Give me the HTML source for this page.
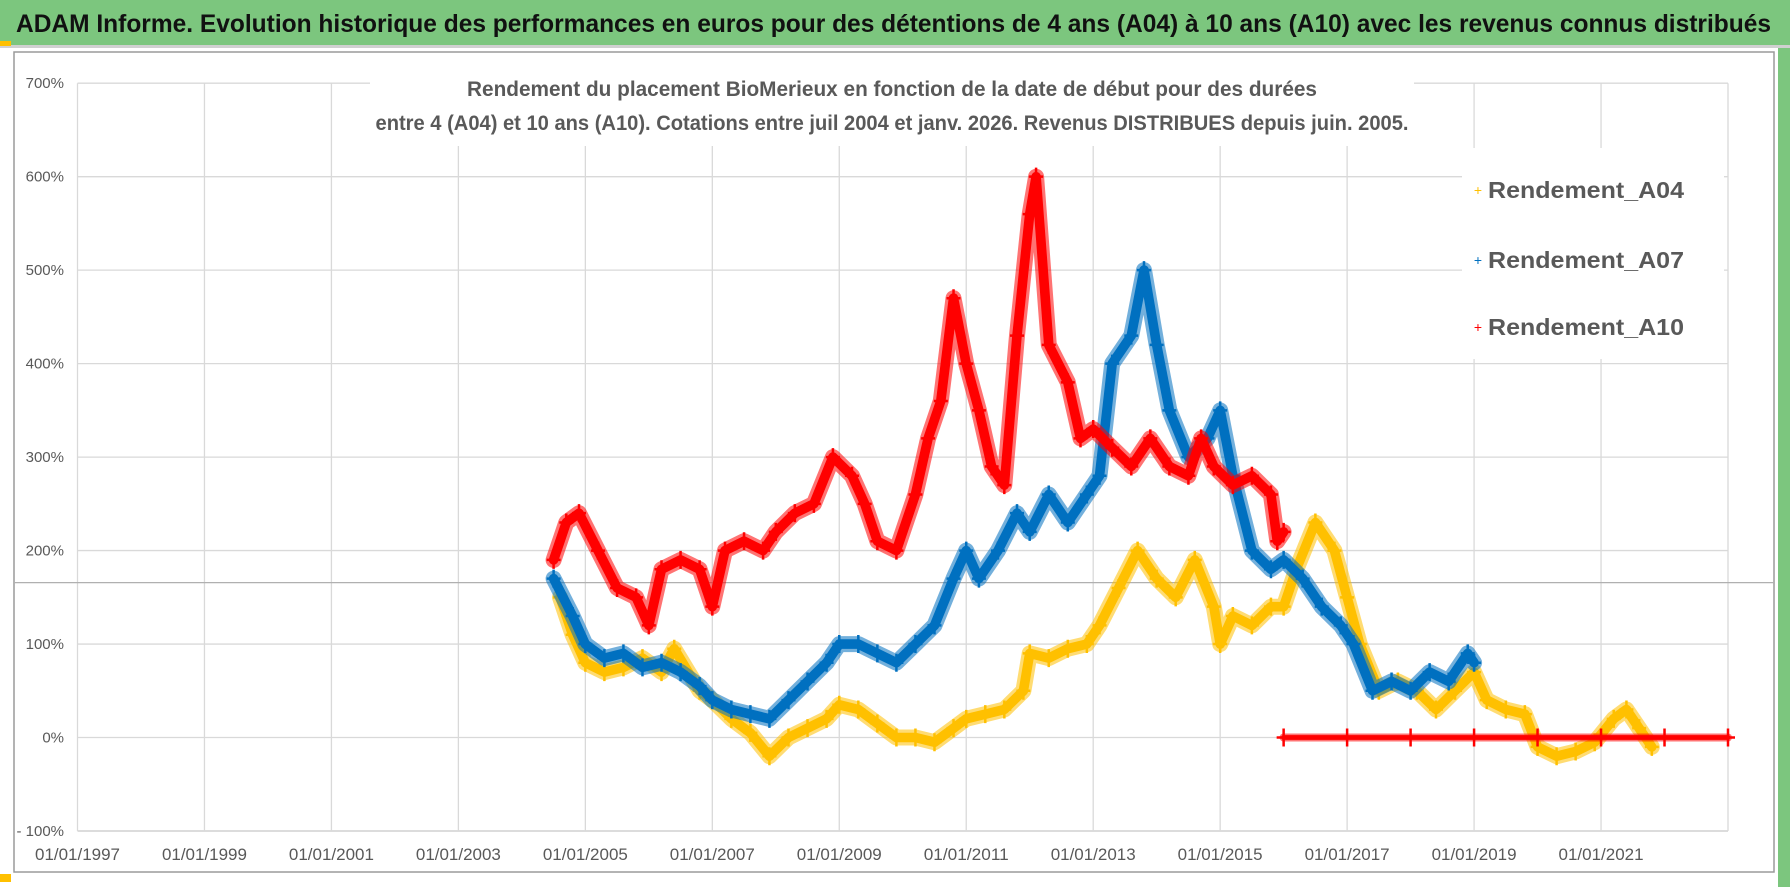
<!DOCTYPE html>
<html><head><meta charset="utf-8"><style>
html,body{margin:0;padding:0;background:#fff;}
svg{display:block;font-family:"Liberation Sans",sans-serif;}
</style></head><body>
<svg id="chart" width="1790" height="887" viewBox="0 0 1790 887">
<rect x="0" y="0" width="1790" height="887" fill="#fff"/>
<rect x="0" y="0" width="1790" height="45" fill="#7CC67E"/>
<rect x="0" y="45" width="1790" height="3" fill="#d0d0d0"/>
<rect x="0" y="41" width="11" height="5" fill="#FFC000"/>
<text x="16" y="32" font-size="25" font-weight="bold" fill="#111" textLength="1755" lengthAdjust="spacingAndGlyphs">ADAM Informe. Evolution historique des performances en euros pour des détentions de 4 ans (A04) à 10 ans (A10) avec les revenus connus distribués</text>
<rect x="14" y="52" width="1760" height="820" fill="none" stroke="#9a9a9a" stroke-width="1.5"/>
<rect x="1778" y="48" width="12" height="839" fill="#7CC67E"/>
<rect x="0" y="874" width="11" height="8" fill="#FFC000"/>
<g id="grid"></g>
<line x1="14" y1="582.6" x2="1774" y2="582.6" stroke="#b0b0b0" stroke-width="1.2"/>
<g id="series"></g>
<g id="axes"></g>
<rect x="370" y="66" width="1044" height="80" fill="#fff"/>
<text x="892" y="96" text-anchor="middle" font-size="21" font-weight="bold" fill="#595959" textLength="850" lengthAdjust="spacingAndGlyphs">Rendement du placement BioMerieux en fonction de la date de début pour des durées</text>
<text x="892" y="130" text-anchor="middle" font-size="21" font-weight="bold" fill="#595959" textLength="1033" lengthAdjust="spacingAndGlyphs">entre 4 (A04) et 10 ans (A10). Cotations entre juil 2004 et janv. 2026. Revenus DISTRIBUES depuis juin. 2005.</text>
<g>
<rect x="1462" y="148" width="262" height="211" fill="#fff"/>
<g>
<text x="1478" y="195" font-size="14" fill="#FFC000" text-anchor="middle">+</text>
<text x="1488" y="198" font-size="23" font-weight="bold" fill="#595959" textLength="196" lengthAdjust="spacingAndGlyphs">Rendement_A04</text></g>
<g>
<text x="1478" y="265" font-size="14" fill="#0070C0" text-anchor="middle">+</text>
<text x="1488" y="268" font-size="23" font-weight="bold" fill="#595959" textLength="196" lengthAdjust="spacingAndGlyphs">Rendement_A07</text></g>
<g>
<text x="1478" y="332" font-size="14" fill="#FF0000" text-anchor="middle">+</text>
<text x="1488" y="335" font-size="23" font-weight="bold" fill="#595959" textLength="196" lengthAdjust="spacingAndGlyphs">Rendement_A10</text></g>
</g>
</svg>
<script>
const yTicks=[-100,0,100,200,300,400,500,600,700];
const yTickLabels=["- 100%","0%","100%","200%","300%","400%","500%","600%","700%"];
const xTicks=[1997,1999,2001,2003,2005,2007,2009,2011,2013,2015,2017,2019,2021,2023];
const xTickLabels=["01/01/1997","01/01/1999","01/01/2001","01/01/2003","01/01/2005","01/01/2007","01/01/2009","01/01/2011","01/01/2013","01/01/2015","01/01/2017","01/01/2019","01/01/2021",""];
const a04T=[2004.6,2004.8,2005.0,2005.3,2005.6,2005.9,2006.2,2006.4,2006.8,2007.0,2007.3,2007.6,2007.9,2008.2,2008.5,2008.8,2009.0,2009.3,2009.6,2009.9,2010.2,2010.5,2010.8,2011.0,2011.3,2011.6,2011.9,2012.0,2012.3,2012.6,2012.9,2013.1,2013.4,2013.7,2014.0,2014.3,2014.6,2014.9,2015.0,2015.2,2015.5,2015.8,2016.0,2016.2,2016.5,2016.8,2017.0,2017.2,2017.5,2017.8,2018.1,2018.4,2018.7,2019.0,2019.2,2019.5,2019.8,2020.0,2020.3,2020.6,2020.9,2021.2,2021.4,2021.6,2021.8];
const a04V=[150,110,80,70,75,85,70,95,50,40,20,5,-20,0,10,20,35,30,15,0,0,-5,10,20,25,30,50,90,85,95,100,120,160,200,170,150,190,140,100,130,120,140,140,180,230,200,150,100,50,60,50,30,50,70,40,30,25,-10,-20,-15,-5,20,30,10,-10];
const a07T=[2004.5,2004.8,2005.0,2005.3,2005.6,2005.9,2006.2,2006.5,2006.8,2007.0,2007.3,2007.6,2007.9,2008.2,2008.5,2008.8,2009.0,2009.3,2009.6,2009.9,2010.2,2010.5,2010.8,2011.0,2011.2,2011.5,2011.8,2012.0,2012.3,2012.6,2012.9,2013.1,2013.3,2013.6,2013.8,2014.0,2014.2,2014.5,2014.8,2015.0,2015.2,2015.5,2015.8,2016.0,2016.3,2016.6,2016.9,2017.1,2017.4,2017.7,2018.0,2018.3,2018.6,2018.9,2019.0];
const a07V=[170,130,100,85,90,75,80,70,55,40,30,25,20,40,60,80,100,100,90,80,100,120,170,200,170,200,240,220,260,230,260,280,400,430,500,420,350,300,320,350,280,200,180,190,170,140,120,100,50,60,50,70,60,90,80];
const a10T=[2004.5,2004.7,2004.9,2005.2,2005.5,2005.8,2006.0,2006.2,2006.5,2006.8,2007.0,2007.2,2007.5,2007.8,2008.0,2008.3,2008.6,2008.9,2009.2,2009.4,2009.6,2009.9,2010.2,2010.4,2010.6,2010.8,2011.0,2011.2,2011.4,2011.6,2011.8,2012.0,2012.1,2012.3,2012.6,2012.8,2013.0,2013.3,2013.6,2013.9,2014.2,2014.5,2014.7,2014.9,2015.2,2015.5,2015.8,2015.9,2016.0];
const a10V=[190,230,240,200,160,150,120,180,190,180,140,200,210,200,220,240,250,300,280,250,210,200,260,320,360,470,400,350,290,270,430,560,600,420,380,320,330,310,290,320,290,280,320,290,270,280,260,210,220];
const a10ZeroT=[2016.0,2017.0,2018.0,2019.0,2020.0,2021.0,2022.0,2023.0];
const a10ZeroV=[0,0,0,0,0,0,0,0];

const NS="http://www.w3.org/2000/svg";
const X0=77.5,X1=1728,Y0=83.2,Y1=831;
function xs(t){return X0+(t-1997)*(X1-X0)/26;}
function ys(v){return Y0+(700-v)*(Y1-Y0)/800;}
function mk(tag,attrs,parent){const e=document.createElementNS(NS,tag);for(const k in attrs)e.setAttribute(k,attrs[k]);parent.appendChild(e);return e;}
const grid=document.getElementById('grid'),axes=document.getElementById('axes'),ser=document.getElementById('series');
yTicks.forEach((v,i)=>{
  const l=mk('line',{x1:X0,x2:X1,y1:ys(v),y2:ys(v),stroke:i===0?'#c8c8c8':'#d9d9d9','stroke-width':1.3},grid);
  
  
  const t=mk('text',{x:64,y:ys(v)+5,'text-anchor':'end','font-size':15,fill:'#595959'},axes);
  t.textContent=yTickLabels[i];
  
  
});
xTicks.forEach((yr,i)=>{
  const l=mk('line',{x1:xs(yr),x2:xs(yr),y1:Y0,y2:Y1,stroke:'#d9d9d9','stroke-width':1.3},grid);
  
  
  if(xTickLabels[i]){
  const t=mk('text',{x:xs(yr),y:860,'text-anchor':'middle','font-size':17,fill:'#595959',textLength:85,lengthAdjust:'spacingAndGlyphs'},axes);
  t.textContent=xTickLabels[i];
  
  }
});
function drawSeries(T,V,color,name,w){
  const g=mk('g',{},ser);
  
  
  const pts=T.map((t,i)=>xs(t).toFixed(1)+','+ys(V[i]).toFixed(1)).join(' ');
  mk('polyline',{points:pts,fill:'none',stroke:color,'stroke-width':w,'stroke-linejoin':'round','stroke-linecap':'round','stroke-opacity':0.55},g);
  mk('polyline',{points:pts,fill:'none',stroke:color,'stroke-width':w*0.6,'stroke-linejoin':'round','stroke-linecap':'round'},g);
  T.forEach((t,i)=>{
    const x=xs(t),y=ys(V[i]);
    const p=mk('path',{d:`M${x-7},${y}h14M${x},${y-9}v18`,stroke:color,'stroke-width':2.5},g);
    
    
  });
}
drawSeries(a04T,a04V,'#FFC000','series-a04',16);
drawSeries(a07T,a07V,'#0070C0','series-a07',16);
drawSeries(a10T,a10V,'#FF0000','series-a10',16);
drawSeries(a10ZeroT,a10ZeroV,'#FF0000','series-a10-zero',8);
</script>
</body></html>
